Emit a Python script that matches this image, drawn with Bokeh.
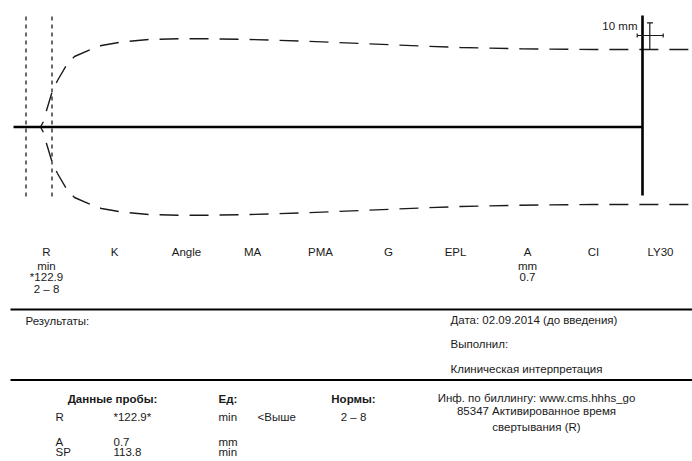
from bokeh.plotting import figure
from bokeh.models import Range1d
from bokeh.core.properties import value
from bokeh.embed import file_html
from bokeh.resources import INLINE

# ---- data (page pixel units) ----
baseline_y = 126.5
trace_x = [40, 43, 46, 52, 57, 67, 74, 90, 101, 120, 148, 178, 208, 240,
           300, 360, 420, 460, 520, 593, 692]
trace_y_upper = [126.5, 121, 110, 90, 80, 63, 56, 49, 45, 41.7, 39, 38.3, 38.3, 38.7,
                 40.5, 43, 45.5, 47, 48.3, 49, 49]
trace_amp = [baseline_y - y for y in trace_y_upper]

r_marker_x = [25.5, 51.5]
param_names = ["R", "K", "Angle", "MA", "PMA", "G", "EPL", "A", "CI", "LY30"]
param_x = [46, 114, 186, 252, 320, 388, 455, 527, 593, 660]
param_units = ["min", "", "", "", "", "", "", "mm", "", ""]
param_values = ["*122.9", "", "", "", "", "", "", "0.7", "", ""]
param_norms = ["2 – 8", "", "", "", "", "", "", "", "", ""]

sample_names = ["R", "A", "SP"]
sample_values = ["*122.9*", "0.7", "113.8"]
sample_units = ["min", "mm", "min"]
sample_flags = ["<Выше", "", ""]
sample_norms = ["2 – 8", "", ""]
sample_row_y = [416.5, 441.5, 451]

FONT = value("Liberation Sans")
COL = "#1a1a1a"
FS = "11.5px"

W, H = 692, 461
p = figure(width=W, height=H, x_range=Range1d(0, W), y_range=Range1d(H, 0),
           output_backend="svg", toolbar_location=None, min_border=0,
           x_axis_type=None, y_axis_type=None)
p.grid.visible = False
p.outline_line_color = None
p.background_fill_color = "white"

# R markers (short dashed verticals)
p.segment(x0=r_marker_x, y0=[16, 16], x1=r_marker_x, y1=[197, 197],
          line_color=COL, line_width=1.3, line_dash="4 4")

# trace envelope
up = [baseline_y - a for a in trace_amp]
lo = [baseline_y + a for a in trace_amp]
for ys in (up, lo):
    p.line(trace_x, ys, line_color=COL, line_width=1.4, line_dash="19 11",
           line_dash_offset=13)

# baseline and end marker
p.segment(x0=[13], y0=[baseline_y], x1=[642], y1=[baseline_y], line_color="black", line_width=2.4)
p.segment(x0=[642], y0=[15], x1=[642], y1=[195], line_color="black", line_width=2.6)

# 10 mm scale
p.segment(x0=[649.3, 646.5, 646.5, 636.7, 636.7, 662.7],
          y0=[22.3, 22.3, 49, 35, 33, 33],
          x1=[649.3, 652.5, 652.5, 662.7, 636.7, 662.7],
          y1=[49, 22.3, 49, 35, 37, 37], line_color=COL, line_width=1.2)
p.text(x=[637], y=[25], text=["10 mm"], text_font=FONT, text_font_size=FS,
       text_align="right", text_baseline="middle", text_color=COL)


def col_text(xs, ys, texts, align="center", bold=False, size=FS):
    p.text(x=xs, y=ys, text=texts, text_font=FONT, text_font_size=size,
           text_align=align, text_baseline="middle", text_color=COL,
           text_font_style="bold" if bold else "normal")


# parameter header rows
col_text(param_x, [251] * len(param_x), param_names)
col_text(param_x, [265] * len(param_x), param_units)
col_text(param_x, [276.5] * len(param_x), param_values)
col_text(param_x, [288] * len(param_x), param_norms)

# separators
p.segment(x0=[10, 10], y0=[309, 379.5], x1=[692, 692], y1=[309, 379.5],
          line_color="black", line_width=2)

col_text([25], [320], ["Результаты:"], align="left")
col_text([450, 450, 450], [319.5, 343.5, 368], ["Дата: 02.09.2014 (до введения)", "Выполнил:",
                                                "Клиническая интерпретация"], align="left")

# sample table
col_text([112], [398], ["Данные пробы:"], bold=True)
col_text([218], [398], ["Ед:"], align="left", bold=True)
col_text([353], [398], ["Нормы:"], bold=True)
col_text([55] * 3, sample_row_y, sample_names, align="left")
col_text([113] * 3, sample_row_y, sample_values, align="left")
col_text([218] * 3, sample_row_y, sample_units, align="left")
col_text([257] * 3, sample_row_y, sample_flags, align="left")
col_text([353] * 3, sample_row_y, sample_norms)

col_text([536, 536, 536], [397, 410.5, 426],
         ["Инф. по биллингу: www.cms.hhhs_go", "85347 Активированное время", "свертывания (R)"])

open("out.html", "w").write(file_html(p, INLINE))
